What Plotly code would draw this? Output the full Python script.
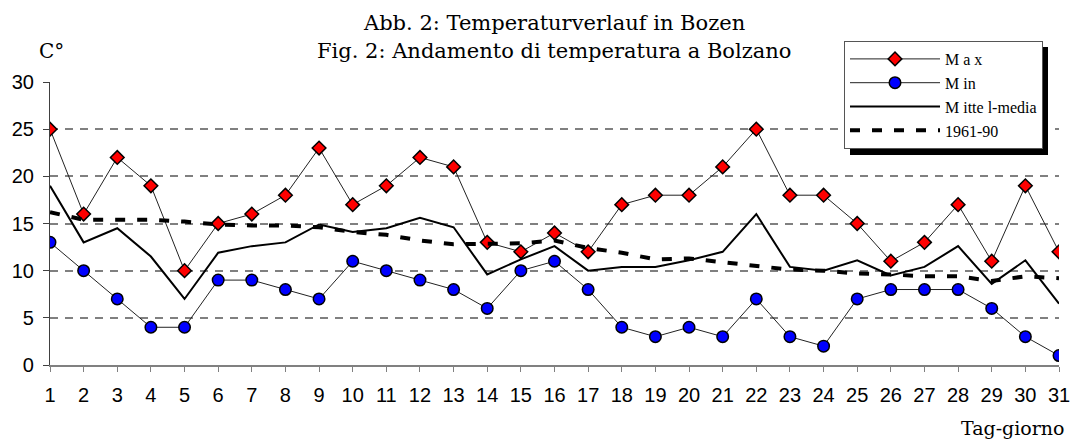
import plotly.graph_objects as go

days = list(range(1, 32))
t_max = [25, 16, 22, 19, 10, 15, 16, 18, 23, 17, 19, 22, 21, 13, 12, 14, 12, 17, 18, 18, 21, 25, 18, 18, 15, 11, 13, 17, 11, 19, 12]
t_min = [13, 10, 7, 4, 4, 9, 9, 8, 7, 11, 10, 9, 8, 6, 10, 11, 8, 4, 3, 4, 3, 7, 3, 2, 7, 8, 8, 8, 6, 3, 1]
t_mean = [19.0, 13.0, 14.5, 11.5, 7.0, 11.9, 12.6, 13.0, 14.9, 14.1, 14.5, 15.6, 14.6, 9.6, 11.2, 12.6, 10.0, 10.4, 10.4, 11.1, 12.0, 16.0, 10.4, 10.0, 11.1, 9.5, 10.4, 12.6, 8.6, 11.1, 6.5]
t_norm = [16.2, 15.4, 15.4, 15.4, 15.2, 14.9, 14.8, 14.8, 14.6, 14.1, 13.8, 13.2, 12.8, 12.9, 12.9, 13.2, 12.4, 11.9, 11.2, 11.3, 10.9, 10.5, 10.1, 10.0, 9.7, 9.6, 9.4, 9.4, 8.9, 9.4, 9.2]
y_ticks = [0, 5, 10, 15, 20, 25, 30]

# plot-area geometry (pixels) used only for placing decorations
L, R, T, B = 50, 12, 82, 76
PW, PH = 1071 - L - R, 441 - T - B


def px(x):
    return (x - L) / PW


def py(y):
    return (441 - B - y) / PH


fig = go.Figure()
fig.add_trace(go.Scatter(x=days, y=t_max, name="M a x", mode="lines+markers",
                         line=dict(color="#222222", width=1),
                         marker=dict(symbol="diamond", size=10.5, color="#ff0000",
                                     line=dict(color="black", width=1.5))))
fig.add_trace(go.Scatter(x=days, y=t_min, name="M in", mode="lines+markers",
                         line=dict(color="#222222", width=1),
                         marker=dict(symbol="circle", size=11.5, color="#0000ff",
                                     line=dict(color="black", width=1.5))))
fig.add_trace(go.Scatter(x=days, y=t_mean, name="M itte l-media", mode="lines",
                         line=dict(color="black", width=2)))
fig.add_trace(go.Scatter(x=days, y=t_norm, name="1961-90", mode="lines",
                         line=dict(color="black", width=4, dash="10px,12px")))

fig.update_layout(
    width=1071, height=441,
    margin=dict(l=L, r=R, t=T, b=B, autoexpand=False),
    paper_bgcolor="white", plot_bgcolor="white",
    showlegend=True,
    legend=dict(x=px(844), y=py(41), xanchor="left", yanchor="top",
                bgcolor="white", bordercolor="#555555", borderwidth=1,
                font=dict(family="Liberation Serif", size=16, color="black"),
                itemwidth=90, tracegroupgap=2),
    xaxis=dict(range=[1, 31], tickmode="array", tickvals=days, ticktext=[str(d) for d in days],
               showgrid=False, zeroline=False, showline=True, linecolor="#808080", linewidth=1.5,
               ticks="outside", ticklen=5, tickcolor="#808080", tickwidth=1,
               tickfont=dict(family="Liberation Sans", size=20, color="black"),
               ticklabelstandoff=6),
    xaxis2=dict(range=[1, 31], overlaying="x", anchor="y", side="bottom",
                tickmode="array", tickvals=days, showticklabels=False,
                showgrid=False, zeroline=False, showline=False,
                ticks="inside", ticklen=5, tickcolor="#808080", tickwidth=1),
    yaxis=dict(range=[0, 30], tickmode="array", tickvals=y_ticks,
               showgrid=True, gridcolor="#808080", gridwidth=1.5, griddash="8px,7px",
               zeroline=False, showline=True, linecolor="#404040", linewidth=1.2,
               ticks="outside", ticklen=6, tickcolor="#404040",
               tickfont=dict(family="Liberation Sans", size=20, color="black"),
               ticklabelstandoff=5),
    shapes=[
        dict(type="rect", xref="paper", yref="paper", layer="between",
             x0=px(303), x1=px(808), y0=py(90), y1=py(74),
             fillcolor="white", line=dict(width=0)),
        dict(type="rect", xref="paper", yref="paper", layer="above",
             x0=px(850), x1=px(1048), y0=py(155), y1=py(47),
             fillcolor="black", line=dict(width=0)),
    ],
    annotations=[
        dict(text="Abb. 2: Temperaturverlauf in Bozen", xref="paper", yref="paper",
             x=px(554), y=py(23), xanchor="center", yanchor="middle", showarrow=False,
             font=dict(family="DejaVu Serif", size=21, color="black")),
        dict(text="Fig. 2: Andamento di temperatura a Bolzano", xref="paper", yref="paper",
             x=px(554), y=py(51), xanchor="center", yanchor="middle", showarrow=False,
             font=dict(family="DejaVu Serif", size=21, color="black")),
        dict(text="C°", xref="paper", yref="paper", x=px(51), y=py(51),
             xanchor="center", yanchor="middle", showarrow=False,
             font=dict(family="DejaVu Serif", size=20, color="black")),
        dict(text="Tag-giorno", xref="paper", yref="paper", x=px(1067), y=py(428),
             xanchor="right", yanchor="middle", showarrow=False,
             font=dict(family="DejaVu Serif", size=19, color="black")),
    ],
)

fig.write_html("out.html", config={"displayModeBar": False},
               post_script="document.body.style.margin='0';")
